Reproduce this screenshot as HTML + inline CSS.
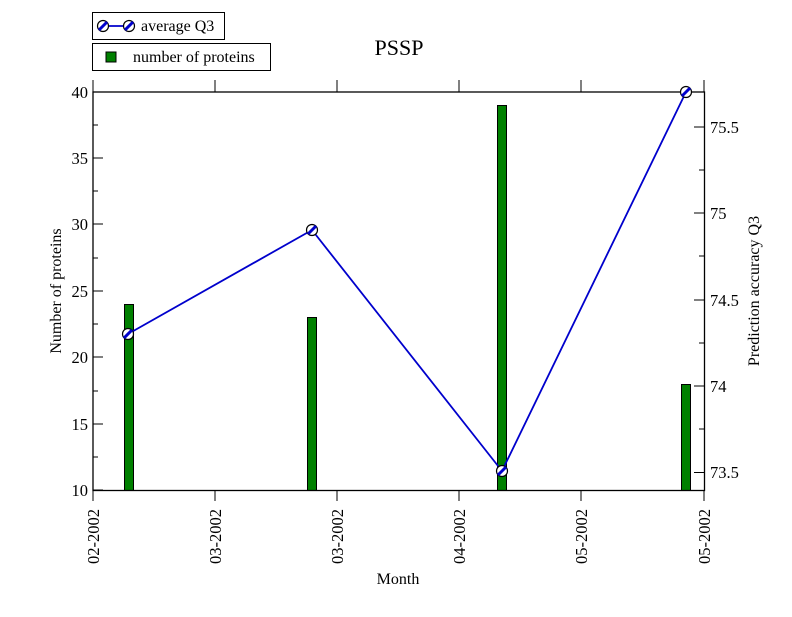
<!DOCTYPE html>
<html><head><meta charset="utf-8"><style>body{margin:0;background:#fff}</style></head><body>
<svg width="792" height="612" xmlns="http://www.w3.org/2000/svg" font-family="Liberation Serif, serif" fill="#000">
<rect width="792" height="612" fill="#fff"/>
<text x="399" y="55" font-size="22" text-anchor="middle">PSSP</text>
<g fill="#008000" stroke="#000" stroke-width="1">
<rect x="124.5" y="304.5" width="9" height="186"/>
<rect x="307.5" y="317.5" width="9" height="173"/>
<rect x="497.5" y="105.5" width="9" height="385"/>
<rect x="681.5" y="384.5" width="9" height="106"/>
</g>
<g stroke="#000" stroke-width="1.3" fill="none">
<rect x="93" y="92" width="611.5" height="398.5"/>
</g>
<g stroke="#000" stroke-width="1">
<path d="M93 490v11M215 490v11M337 490v11M459 490v11M581 490v11M704 490v11"/>
<path d="M93 92v-12M215 92v-12M337 92v-12M459 92v-12M581 92v-12M704 92v-12"/>
<path d="M93 490h10M93 424h10M93 357h10M93 291h10M93 224h10M93 158h10M93 92h10"/>
<path d="M93 457h5M93 391h5M93 324h5M93 258h5M93 191h5M93 125h5"/>
<path d="M704 472.5h-10M704 386h-10M704 300h-10M704 213h-10M704 127h-10"/>
<path d="M704 429h-5M704 343h-5M704 256h-5M704 170h-5"/>
</g>
<g font-size="16.5" text-anchor="end">
<text x="88" y="496">10</text><text x="88" y="430">15</text><text x="88" y="363">20</text>
<text x="88" y="297">25</text><text x="88" y="230">30</text><text x="88" y="164">35</text><text x="88" y="98">40</text>
</g>
<g font-size="16.5">
<text x="710" y="478">73.5</text><text x="710" y="392">74</text><text x="710" y="306">74.5</text>
<text x="710" y="219">75</text><text x="710" y="133">75.5</text>
</g>
<g font-size="16.5" text-anchor="end">
<text transform="translate(99,509) rotate(-90)">02-2002</text>
<text transform="translate(221,509) rotate(-90)">03-2002</text>
<text transform="translate(343,509) rotate(-90)">03-2002</text>
<text transform="translate(465,509) rotate(-90)">04-2002</text>
<text transform="translate(587,509) rotate(-90)">05-2002</text>
<text transform="translate(710,509) rotate(-90)">05-2002</text>
</g>
<text x="398" y="584" font-size="16" text-anchor="middle">Month</text>
<text transform="translate(61,291) rotate(-90)" font-size="16" text-anchor="middle">Number of proteins</text>
<text transform="translate(759,291) rotate(-90)" font-size="16" text-anchor="middle">Prediction accuracy Q3</text>
<polyline points="128,334 312,230 502,471 686,92" fill="none" stroke="#0000cc" stroke-width="1.8"/>
<defs>
<g id="m"><circle r="5.5" fill="#fff" stroke="#000" stroke-width="1.2"/><line x1="-4" y1="4" x2="4" y2="-4" stroke="#0000cc" stroke-width="3"/></g>
</defs>
<use href="#m" x="128" y="334"/><use href="#m" x="312" y="230"/><use href="#m" x="502" y="471"/><use href="#m" x="686" y="92"/>
<rect x="92.5" y="12.5" width="132" height="27" fill="#fff" stroke="#000"/>
<line x1="103" y1="26" x2="129" y2="26" stroke="#0000cc" stroke-width="1.8"/>
<use href="#m" x="103" y="26"/><use href="#m" x="129" y="26"/>
<text x="141" y="31" font-size="16">average Q3</text>
<rect x="92.5" y="43.5" width="178" height="27" fill="#fff" stroke="#000"/>
<rect x="106" y="52" width="10" height="10" fill="#008000" stroke="#000"/>
<text x="133" y="62" font-size="16">number of proteins</text>
</svg>
</body></html>
